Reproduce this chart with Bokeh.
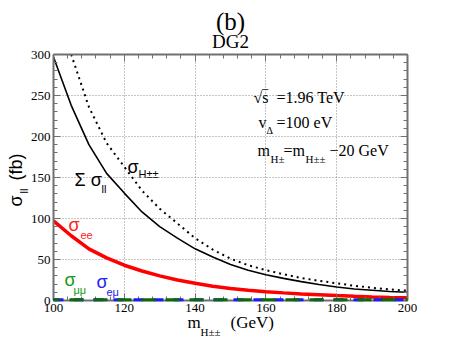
import math
from bokeh.plotting import figure
from bokeh.models import Label, LinearAxis, FixedTicker, Range1d
from bokeh.embed import file_html
from bokeh.resources import INLINE

# ---------------- data ----------------
mass = [100, 105, 110, 115, 120, 125, 130, 135, 140, 145, 150,
        155, 160, 165, 170, 175, 180, 185, 190, 195, 200]
sigma_sum = [297, 238, 190, 155, 131, 108, 90, 76, 63, 53, 44,
             37, 31.5, 27, 23, 19.5, 16.5, 14, 12.5, 11, 10]
sigma_ee = [97, 79, 63, 52, 43, 36, 30, 25, 21, 17.5, 14.7,
            12.5, 10.8, 9.3, 8, 7, 6, 5.1, 4.4, 3.8, 3.3]
mass_H = [105, 110, 115, 120, 125, 130, 135, 140, 145, 150,
          155, 160, 165, 170, 175, 180, 185, 190, 195, 200]
sigma_H = [300, 236, 192, 163, 134, 112, 94, 76, 62, 51,
           43, 37, 32, 27.5, 24, 21, 18, 15.5, 13.5, 12]
sigma_mumu = [1.0] * len(mass)
sigma_emu = [1.0] * len(mass)

x_ticks = [100, 120, 140, 160, 180, 200]
y_ticks = [0, 50, 100, 150, 200, 250, 300]

NB = "\u00a0"

# ---------------- figure ----------------
p = figure(width=456, height=352, x_range=Range1d(100, 200), y_range=Range1d(0, 300),
           output_backend="svg", toolbar_location=None,
           min_border_left=53, min_border_right=49, min_border_top=54, min_border_bottom=52)
p.outline_line_color = None
p.background_fill_color = "white"

xt = FixedTicker(ticks=x_ticks, minor_ticks=list(range(100, 201, 4)))
yt = FixedTicker(ticks=y_ticks, minor_ticks=list(range(0, 301, 10)))

AX = "#707070"
def style_axis(ax, labels=True):
    ax.axis_line_color = AX
    ax.axis_line_width = 2
    ax.major_tick_line_color = AX
    ax.minor_tick_line_color = AX
    ax.major_tick_in = 7
    ax.major_tick_out = 0
    ax.minor_tick_in = 4
    ax.minor_tick_out = 0
    ax.major_tick_line_width = 1
    ax.minor_tick_line_width = 1
    if labels:
        ax.major_label_text_font = "Liberation Serif"
        ax.major_label_text_font_size = "13px"
        ax.major_label_text_color = "black"
        ax.major_label_standoff = 3
    else:
        ax.major_label_text_alpha = 0
        ax.major_label_text_font_size = "1px"
        ax.major_label_standoff = 0

p.xaxis.ticker = xt
p.yaxis.ticker = yt
style_axis(p.xaxis[0])
style_axis(p.yaxis[0])

top = LinearAxis(ticker=xt)
style_axis(top, labels=False)
p.add_layout(top, "above")
right = LinearAxis(ticker=yt)
style_axis(right, labels=False)
p.add_layout(right, "right")

p.xgrid.ticker = xt
p.ygrid.ticker = yt
for g in (p.xgrid[0], p.ygrid[0]):
    g.grid_line_color = "#8a8a8a"
    g.grid_line_dash = "1 2"
    g.grid_line_width = 1

# ---------------- curves ----------------
p.line(mass_H, sigma_H, line_color="black", line_width=2, line_dash="2 4")
p.line(mass, sigma_sum, line_color="black", line_width=1.6)
p.line(mass, sigma_ee, line_color="#ff0000", line_width=3.5)
p.line(mass, sigma_emu, line_color="#1a1aff", line_width=3, line_dash="10 10",
       level="overlay")
p.line(mass, sigma_mumu, line_color="#0a6a0a", line_width=3, line_dash="14 10",
       line_dash_offset=8, level="overlay")

# ---------------- text (canvas pixel positions, vertical centre) ----------------
SERIF = "Liberation Serif"
SANS = "Liberation Sans"

def lab(px, py, text, size, font=SERIF, color="black", align="left", angle=0,
        place=None):
    l = Label(x=px, y=py, x_units="canvas", y_units="canvas", text=text,
              text_font=font, text_font_size=f"{size}px", text_color=color,
              text_align=align, text_baseline="middle", angle=angle)
    if place is None:
        p.add_layout(l)
    else:
        p.add_layout(l, place)

# title (above panel)
lab(230, 21, "(b)", 25, align="center", place="above")
lab(230, 41, "DG2", 19, align="center", place="above")

# y axis label (rotated)
lab(15.5, 206, "σ" + NB * 3 + "(fb)", 18, font=SANS, angle=math.pi / 2, place="left")
lab(23, 193, "ll", 11, font=SANS, angle=math.pi / 2, place="right")

# x axis label
lab(187, 321.5, "m" + NB * 7 + "(GeV)", 17, place="below")
lab(200, 331, "H±±", 11, place="right")

# info block
lab(253, 96.5, "√s" + NB * 2 + "=1.96 TeV", 16)
lab(262, 96.5, "\u203e", 16)
lab(258, 121.5, "v", 16)
lab(266, 129.5, "Δ", 10)
lab(276, 121.5, "=100 eV", 16)
lab(257, 149.5, "m", 16)
lab(270, 158.5, "H±", 11)
lab(283, 149.5, "=m", 16)
lab(305, 158.5, "H±±", 11)
lab(329, 149.5, "−20 GeV", 16)

# curve labels
lab(74, 179, "Σ σ", 18, font=SANS)
lab(101, 188, "ll", 11, font=SANS)
lab(127, 166, "σ", 18, font=SANS)
lab(138, 173, "H±±", 11, font=SANS)
lab(68, 224, "σ", 18, font=SANS, color="#ff2020")
lab(80, 234, "ee", 11, font=SANS, color="#ff2020")
lab(64, 279, "σ", 18, font=SANS, color="#119911")
lab(73, 289, "μμ", 11, font=SANS, color="#119911")
lab(96, 281, "σ", 18, font=SANS, color="#2222ee")
lab(106, 291, "eμ", 11, font=SANS, color="#2222ee")

open("out.html", "w").write(file_html(p, INLINE))
